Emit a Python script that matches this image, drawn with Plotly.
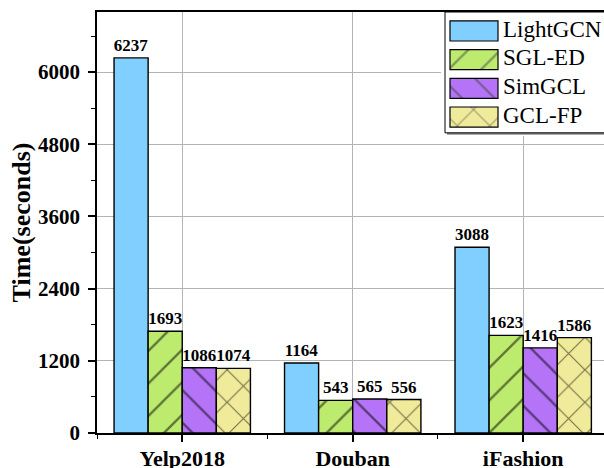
import plotly.graph_objects as go

# ---- data -------------------------------------------------------------
datasets = ["Yelp2018", "Douban", "iFashion"]
methods = ["LightGCN", "SGL-ED", "SimGCL", "GCL-FP"]
lightgcn = [6237, 1164, 3088]
sgl_ed = [1693, 543, 1623]
simgcl = [1086, 565, 1416]
gcl_fp = [1074, 556, 1586]
y_tick_values = [0, 1200, 2400, 3600, 4800, 6000]

# ---- style ------------------------------------------------------------
series = [lightgcn, sgl_ed, simgcl, gcl_fp]
colors = ["#80CFFF", "#BDEB6E", "#B574F7", "#F0EB9A"]
patterns = ["", "/", "\\", "x"]
SERIF = "Liberation Serif, Times New Roman, serif"
GRID = "#B4B4B4"
PAT_SIZE, PAT_SOLID = 23, 0.1

W, H = 604, 468
L, R, T, B = 97, 0, 12, 35
PW, PH = W - L - R, H - T - B

fig = go.Figure()

xpos = list(range(len(datasets)))
for name, vals, col, pat in zip(methods, series, colors, patterns):
    fig.add_trace(go.Bar(
        x=xpos, y=vals, name=name,
        marker=dict(color=col, line=dict(color="black", width=1.4),
                    pattern=dict(shape=pat, fgcolor="black", bgcolor=col,
                                 size=PAT_SIZE, solidity=PAT_SOLID)),
        texttemplate="%{y}", textposition="outside",
        textfont=dict(family=SERIF, size=17, color="black", weight="bold"),
        constraintext="none", cliponaxis=False, showlegend=False,
    ))

# ---- legend box, drawn in its own small subplot -------------------------
leg_left_px, leg_bottom_px = 441, 136
x2_dom = [(leg_left_px - L) / PW, 1.0]
y2_dom = [(H - B - leg_bottom_px) / PH, 1.0]

def lx(px):
    return (px - leg_left_px) / (W - leg_left_px)

fig.add_trace(go.Bar(
    x=[lx(498) - lx(450)] * len(methods), base=[lx(450)] * len(methods),
    y=methods, orientation="h", width=0.7,
    marker=dict(color=colors, line=dict(color="black", width=1.2),
                pattern=dict(shape=patterns, fgcolor="black", bgcolor=colors,
                             size=PAT_SIZE, solidity=PAT_SOLID)),
    xaxis="x2", yaxis="y2", showlegend=False, hoverinfo="skip",
))
fig.add_trace(go.Scatter(
    x=[lx(503)] * len(methods), y=methods, mode="text", text=methods,
    textposition="middle right",
    textfont=dict(family=SERIF, size=23, color="black"),
    xaxis="x2", yaxis="y2", showlegend=False, hoverinfo="skip",
    cliponaxis=False,
))

row_top, row_bot = -0.66, 3.66
fig.add_shape(type="rect", xref="x2", yref="y2", layer="below",
              x0=lx(447), x1=1.2, y0=row_top + 0.1, y1=3.62,
              fillcolor="#8C8C8C", line=dict(width=0))
fig.add_shape(type="rect", xref="x2", yref="y2", layer="below",
              x0=lx(445), x1=1.2, y0=row_top, y1=3.55,
              fillcolor="white", line=dict(color="black", width=1))

fig.update_layout(
    width=W, height=H, autosize=False,
    margin=dict(l=L, r=R, t=T, b=B, pad=0, autoexpand=False),
    paper_bgcolor="white", plot_bgcolor="white",
    barmode="group", bargap=0.2, bargroupgap=0,
    font=dict(family=SERIF, color="black"),
    xaxis=dict(
        range=[-0.5, 2.474], tickmode="array", tickvals=xpos, ticktext=datasets,
        ticks="outside", ticklen=7, tickwidth=1.5, tickcolor="black",
        ticklabelstandoff=-2, automargin=False,
        tickfont=dict(family=SERIF, size=22, color="black", weight="bold"),
        showgrid=True, gridcolor=GRID, gridwidth=1,
        showline=True, linecolor="black", linewidth=1.5, mirror=True,
        zeroline=False,
        minor=dict(tickvals=[-0.5, 0.5, 1.5, 2.5], ticks="outside", ticklen=4,
                   tickwidth=1.2, tickcolor="black", showgrid=False),
    ),
    yaxis=dict(
        range=[0, 7000], tickmode="array", tickvals=y_tick_values,
        ticks="outside", ticklen=7, tickwidth=1.5, tickcolor="black",
        ticklabelstandoff=4, automargin=False,
        tickfont=dict(family=SERIF, size=21, color="black", weight="bold"),
        showgrid=True, gridcolor=GRID, gridwidth=1,
        showline=True, linecolor="black", linewidth=1.5, mirror=True,
        zeroline=False,
        minor=dict(dtick=600, tick0=0, ticks="outside", ticklen=4,
                   tickwidth=1.2, tickcolor="black", showgrid=False),
        title=dict(text="Time(seconds)", standoff=0,
                   font=dict(family=SERIF, size=26, color="black", weight="bold")),
    ),
    xaxis2=dict(domain=x2_dom, range=[0, 1], anchor="y2", visible=False,
                fixedrange=True),
    yaxis2=dict(domain=y2_dom, range=[row_bot, row_top], anchor="x2",
                type="category", categoryorder="array", categoryarray=methods,
                visible=False, fixedrange=True),
)

fig.write_html("out.html")
